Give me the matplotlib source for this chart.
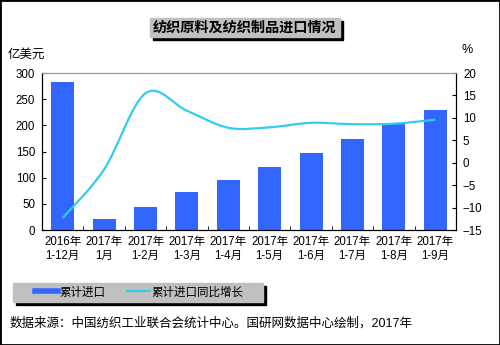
import numpy as np
import matplotlib.pyplot as plt
from matplotlib.patches import Rectangle, PathPatch
from matplotlib.path import Path
from matplotlib.lines import Line2D

plt.rcParams['font.family'] = ['Liberation Sans', 'Noto Sans CJK SC', 'DejaVu Sans']

categories = ["2016年\n1-12月", "2017年\n1月", "2017年\n1-2月", "2017年\n1-3月",
              "2017年\n1-4月", "2017年\n1-5月", "2017年\n1-6月", "2017年\n1-7月",
              "2017年\n1-8月", "2017年\n1-9月"]
imports = [282, 21, 44, 73, 96, 120, 147, 174, 202, 229]
growth = [-12.3, -1.5, 15.5, 11.6, 7.8, 7.9, 8.9, 8.6, 8.7, 9.6]

BAR_COLOR = "#3366FF"
LINE_COLOR = "#33CCEE"


def smooth_path(x, y, tension=1 / 6):
    # Catmull-Rom style bezier, like office chart "smoothed line"
    verts = [(x[0], y[0])]
    codes = [Path.MOVETO]
    n = len(x)
    for i in range(n - 1):
        x0, y0 = (x[i - 1], y[i - 1]) if i > 0 else (x[i], y[i])
        x3, y3 = (x[i + 2], y[i + 2]) if i + 2 < n else (x[i + 1], y[i + 1])
        c1 = (x[i] + (x[i + 1] - x0) * tension, y[i] + (y[i + 1] - y0) * tension)
        c2 = (x[i + 1] - (x3 - x[i]) * tension, y[i + 1] - (y3 - y[i]) * tension)
        verts += [c1, c2, (x[i + 1], y[i + 1])]
        codes += [Path.CURVE4] * 3
    return Path(verts, codes)


def main():
    fig = plt.figure(figsize=(5, 3.45), dpi=100)
    ax = fig.add_axes([0.084, 0.3333, 0.828, 0.455])
    ax2 = ax.twinx()

    x = np.arange(len(categories))
    ax.bar(x, imports, width=0.56, color=BAR_COLOR, zorder=2)
    ax.set_xlim(-0.5, len(categories) - 0.5)
    ax.set_ylim(0, 300)
    ax.set_yticks(range(0, 301, 50))
    ax.set_xticks(x)
    ax.set_xticklabels(categories, fontsize=8.3, linespacing=1.25)
    ax.set_xticks(np.arange(-0.5, len(categories)), minor=True)
    ax.tick_params(axis="x", which="major", length=0, pad=4)
    ax.tick_params(axis="x", which="minor", direction="in", length=3)
    ax.tick_params(axis="y", direction="in", length=3, labelsize=8.3, pad=5)

    ax2.set_ylim(-15, 20)
    ax2.set_yticks(range(-15, 21, 5))
    ax2.tick_params(axis="y", direction="in", length=3, labelsize=8.3, pad=5)
    ax2.add_patch(PathPatch(smooth_path(x, growth), fill=False,
                            edgecolor=LINE_COLOR, lw=1.6, zorder=3))

    for a in (ax, ax2):
        a.spines["top"].set_color("#999999")
        for s in ("left", "right", "bottom"):
            a.spines[s].set_color("black")
        a.spines["right"].set_linewidth(0.8)

    fig.text(0.016, 0.84, "亿美元", fontsize=9, va="center", ha="left")
    fig.text(0.924, 0.855, "%", fontsize=9, va="center", ha="left")

    # title box with shadow
    fig.patches.append(Rectangle((153 / 500, 1 - 40 / 345), 190 / 500, 19 / 345,
                                 transform=fig.transFigure, color="black"))
    fig.patches.append(Rectangle((150 / 500, 1 - 37 / 345), 190 / 500, 19 / 345,
                                 transform=fig.transFigure, color="#C0C0C0"))
    fig.text(245 / 500, 1 - 27.5 / 345, "纺织原料及纺织制品进口情况",
             fontsize=10.2, fontweight="bold", ha="center", va="center")

    # legend box with shadow
    fig.patches.append(Rectangle((16 / 500, 1 - 305 / 345), 250 / 500, 19 / 345,
                                 transform=fig.transFigure, color="black"))
    fig.patches.append(Rectangle((13 / 500, 1 - 302 / 345), 250 / 500, 19 / 345,
                                 transform=fig.transFigure, color="#C0C0C0"))
    handles = [Line2D([], [], color=BAR_COLOR, lw=4),
               Line2D([], [], color=LINE_COLOR, lw=1.6)]
    fig.legend(handles, ["累计进口", "累计进口同比增长"], ncol=2, frameon=False,
               loc="center left", bbox_to_anchor=(35 / 500, 1 - 292.5 / 345),
               fontsize=8.3, handlelength=2.0, handletextpad=0.15,
               columnspacing=1.8, borderpad=0, borderaxespad=0)

    fig.text(10 / 500, 1 - 323 / 345,
             "数据来源：中国纺织工业联合会统计中心。国研网数据中心绘制，2017年",
             fontsize=9.0, ha="left", va="center")

    fig.patches.append(Rectangle((0, 0), 1, 1, transform=fig.transFigure,
                                 fill=False, edgecolor="black", lw=2))

    fig.savefig("out.png", dpi=100)


if __name__ == "__main__":
    main()
